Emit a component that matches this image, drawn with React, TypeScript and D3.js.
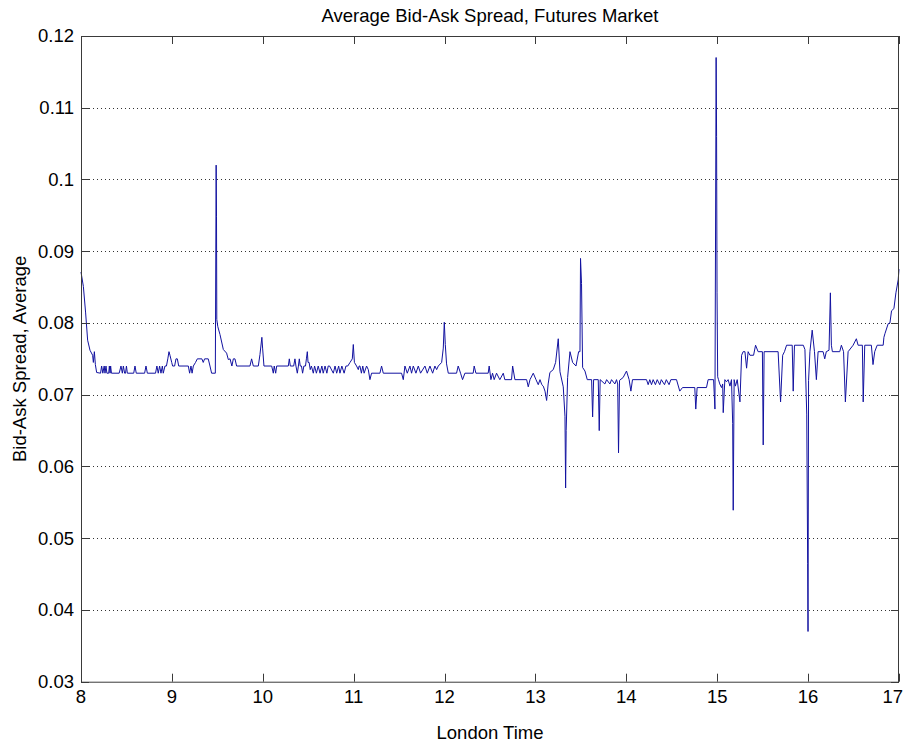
import React from "react";
import * as d3 from "d3";

const times: number[] = [
  8.000, 8.026, 8.051, 8.073, 8.099, 8.128, 8.136, 8.147, 8.158, 8.172,
  8.215, 8.227, 8.240, 8.255, 8.264, 8.275, 8.285, 8.305, 8.312, 8.320,
  8.326, 8.335, 8.420, 8.440, 8.455, 8.466, 8.480, 8.490, 8.500, 8.510,
  8.580, 8.594, 8.608, 8.700, 8.715, 8.730, 8.820, 8.835, 8.850, 8.865,
  8.880, 8.895, 8.905, 8.924, 8.940, 8.955, 8.968, 8.979, 8.998, 9.008,
  9.030, 9.045, 9.060, 9.075, 9.181, 9.195, 9.210, 9.222, 9.236, 9.260,
  9.280, 9.330, 9.345, 9.360, 9.400, 9.419, 9.437, 9.478, 9.487, 9.491,
  9.494, 9.505, 9.529, 9.566, 9.602, 9.621, 9.640, 9.660, 9.676, 9.694,
  9.712, 9.859, 9.877, 9.896, 9.951, 9.969, 9.990, 9.998, 10.013, 10.098,
  10.116, 10.126, 10.142, 10.153, 10.281, 10.292, 10.303, 10.340, 10.354, 10.365,
  10.380, 10.392, 10.402, 10.412, 10.426, 10.438, 10.452, 10.470, 10.480, 10.490,
  10.498, 10.510, 10.522, 10.535, 10.556, 10.570, 10.590, 10.610, 10.630, 10.650,
  10.665, 10.685, 10.705, 10.720, 10.735, 10.776, 10.795, 10.813, 10.835, 10.849,
  10.870, 10.895, 10.915, 10.935, 10.960, 10.985, 10.996, 11.008, 11.032, 11.051,
  11.060, 11.069, 11.085, 11.100, 11.115, 11.142, 11.161, 11.179, 11.197, 11.289,
  11.307, 11.326, 11.527, 11.546, 11.564, 11.590, 11.619, 11.637, 11.656, 11.685,
  11.711, 11.736, 11.784, 11.810, 11.839, 11.869, 11.894, 11.913, 11.931, 11.968,
  11.986, 11.997, 12.008, 12.022, 12.041, 12.132, 12.150, 12.176, 12.198, 12.224,
  12.315, 12.326, 12.345, 12.480, 12.491, 12.510, 12.528, 12.546, 12.572, 12.608,
  12.646, 12.663, 12.737, 12.749, 12.774, 12.903, 12.921, 12.940, 12.976, 13.006,
  13.031, 13.050, 13.070, 13.086, 13.105, 13.123, 13.140, 13.159, 13.196, 13.222,
  13.251, 13.270, 13.306, 13.325, 13.332, 13.338, 13.354, 13.380, 13.409, 13.446,
  13.475, 13.490, 13.496, 13.507, 13.519, 13.545, 13.570, 13.618, 13.629, 13.640,
  13.691, 13.702, 13.712, 13.764, 13.783, 13.819, 13.837, 13.874, 13.892, 13.905,
  13.914, 13.925, 13.965, 14.002, 14.031, 14.050, 14.068, 14.222, 14.240, 14.258,
  14.277, 14.295, 14.320, 14.340, 14.368, 14.385, 14.420, 14.440, 14.470, 14.490,
  14.552, 14.588, 14.618, 14.753, 14.764, 14.779, 14.882, 14.900, 14.960, 14.975,
  14.988, 14.993, 14.998, 15.005, 15.014, 15.028, 15.047, 15.060, 15.066, 15.084,
  15.101, 15.120, 15.140, 15.157, 15.170, 15.176, 15.186, 15.200, 15.220, 15.250,
  15.268, 15.285, 15.305, 15.323, 15.340, 15.360, 15.400, 15.422, 15.450, 15.497,
  15.506, 15.516, 15.670, 15.697, 15.720, 15.740, 15.763, 15.825, 15.836, 15.850,
  15.947, 15.965, 15.985, 15.995, 15.999, 16.005, 16.020, 16.045, 16.070, 16.091,
  16.110, 16.165, 16.183, 16.200, 16.230, 16.245, 16.256, 16.267, 16.348, 16.366,
  16.390, 16.410, 16.440, 16.495, 16.531, 16.550, 16.597, 16.606, 16.623, 16.696,
  16.714, 16.733, 16.760, 16.826, 16.834, 16.845, 16.881, 16.900, 16.918, 16.944,
  16.966, 16.991, 17.000,
];

const spreads: number[] = [
  0.0871, 0.0851, 0.0814, 0.0776, 0.0762, 0.0755, 0.0745, 0.0760, 0.0742, 0.0731,
  0.0730, 0.0740, 0.0730, 0.0740, 0.0730, 0.0740, 0.0730, 0.0730, 0.0740, 0.0730,
  0.0740, 0.0730, 0.0730, 0.0740, 0.0730, 0.0740, 0.0730, 0.0730, 0.0740, 0.0730,
  0.0730, 0.0740, 0.0730, 0.0730, 0.0740, 0.0730, 0.0730, 0.0740, 0.0730, 0.0740,
  0.0730, 0.0740, 0.0730, 0.0740, 0.0740, 0.0750, 0.0760, 0.0755, 0.0745, 0.0740,
  0.0740, 0.0750, 0.0750, 0.0740, 0.0740, 0.0730, 0.0740, 0.0730, 0.0740, 0.0745,
  0.0750, 0.0750, 0.0745, 0.0750, 0.0750, 0.0740, 0.0730, 0.0730, 0.1020, 0.0948,
  0.0805, 0.0795, 0.0784, 0.0763, 0.0758, 0.0749, 0.0750, 0.0740, 0.0750, 0.0750,
  0.0740, 0.0740, 0.0750, 0.0740, 0.0740, 0.0756, 0.0780, 0.0765, 0.0740, 0.0740,
  0.0730, 0.0740, 0.0730, 0.0740, 0.0740, 0.0750, 0.0740, 0.0740, 0.0750, 0.0740,
  0.0730, 0.0740, 0.0750, 0.0740, 0.0740, 0.0730, 0.0740, 0.0740, 0.0750, 0.0760,
  0.0745, 0.0745, 0.0735, 0.0740, 0.0730, 0.0740, 0.0730, 0.0740, 0.0730, 0.0740,
  0.0730, 0.0740, 0.0730, 0.0740, 0.0740, 0.0730, 0.0740, 0.0730, 0.0740, 0.0730,
  0.0740, 0.0730, 0.0740, 0.0740, 0.0745, 0.0750, 0.0770, 0.0745, 0.0740, 0.0735,
  0.0740, 0.0740, 0.0730, 0.0740, 0.0730, 0.0740, 0.0735, 0.0721, 0.0730, 0.0730,
  0.0740, 0.0730, 0.0730, 0.0721, 0.0740, 0.0730, 0.0740, 0.0730, 0.0740, 0.0730,
  0.0740, 0.0730, 0.0740, 0.0730, 0.0740, 0.0730, 0.0740, 0.0735, 0.0740, 0.0745,
  0.0765, 0.0801, 0.0770, 0.0743, 0.0730, 0.0730, 0.0740, 0.0730, 0.0721, 0.0730,
  0.0730, 0.0740, 0.0730, 0.0730, 0.0740, 0.0721, 0.0730, 0.0721, 0.0730, 0.0721,
  0.0730, 0.0721, 0.0721, 0.0740, 0.0721, 0.0721, 0.0711, 0.0721, 0.0730, 0.0721,
  0.0714, 0.0721, 0.0714, 0.0712, 0.0705, 0.0692, 0.0715, 0.0731, 0.0735, 0.0745,
  0.0778, 0.0732, 0.0711, 0.0670, 0.0570, 0.0650, 0.0724, 0.0760, 0.0745, 0.0740,
  0.0760, 0.0760, 0.0890, 0.0855, 0.0738, 0.0733, 0.0721, 0.0721, 0.0669, 0.0721,
  0.0721, 0.0650, 0.0721, 0.0715, 0.0721, 0.0715, 0.0721, 0.0715, 0.0721, 0.0715,
  0.0619, 0.0720, 0.0724, 0.0733, 0.0721, 0.0705, 0.0721, 0.0721, 0.0714, 0.0721,
  0.0714, 0.0721, 0.0714, 0.0721, 0.0714, 0.0721, 0.0714, 0.0721, 0.0714, 0.0721,
  0.0721, 0.0705, 0.0710, 0.0710, 0.0680, 0.0710, 0.0710, 0.0721, 0.0721, 0.0680,
  0.1170, 0.1060, 0.0842, 0.0725, 0.0721, 0.0715, 0.0710, 0.0715, 0.0675, 0.0721,
  0.0718, 0.0721, 0.0712, 0.0721, 0.0660, 0.0539, 0.0721, 0.0712, 0.0721, 0.0690,
  0.0755, 0.0760, 0.0760, 0.0737, 0.0760, 0.0755, 0.0755, 0.0769, 0.0760, 0.0760,
  0.0630, 0.0760, 0.0760, 0.0690, 0.0755, 0.0760, 0.0769, 0.0769, 0.0705, 0.0769,
  0.0769, 0.0763, 0.0673, 0.0465, 0.0370, 0.0720, 0.0760, 0.0790, 0.0760, 0.0721,
  0.0760, 0.0760, 0.0750, 0.0760, 0.0762, 0.0842, 0.0769, 0.0760, 0.0760, 0.0769,
  0.0760, 0.0690, 0.0760, 0.0769, 0.0778, 0.0769, 0.0769, 0.0690, 0.0769, 0.0769,
  0.0742, 0.0760, 0.0769, 0.0769, 0.0780, 0.0785, 0.0799, 0.0800, 0.0817, 0.0820,
  0.0842, 0.0860, 0.0875,
];

const xTicks: number[] = [8, 9, 10, 11, 12, 13, 14, 15, 16, 17];
const yTicks: number[] = [0.03, 0.04, 0.05, 0.06, 0.07, 0.08, 0.09, 0.1, 0.11, 0.12];
const yTickLabels: string[] = ["0.03", "0.04", "0.05", "0.06", "0.07", "0.08", "0.09", "0.1", "0.11", "0.12"];

const titleText = "Average Bid-Ask Spread, Futures Market";
const xLabel = "London Time";
const yLabel = "Bid-Ask Spread, Average";

export default function App() {
  const W = 905;
  const H = 743;
  const left = 81, right = 899, top = 36, bottom = 681.7;
  const x = d3.scaleLinear().domain([8, 17]).range([left, right]);
  const y = d3.scaleLinear().domain([0.03, 0.12]).range([bottom, top]);
  const pts = times.map((t, i) => [t, spreads[i]] as [number, number]);
  const line = d3.line<[number, number]>().x(d => x(d[0])).y(d => y(d[1]));
  const font = "'Liberation Sans', Arial, Helvetica, sans-serif";
  const fs = 18.5;
  const axisColor = "#3a3a3a";
  const tickLen = 8;
  const midX = (left + right) / 2;
  const midY = (top + bottom) / 2;
  const lastTick = xTicks[xTicks.length - 1];

  return (
    <svg width={W} height={H} style={{ position: "absolute", left: 0, top: 0, background: "#fff" }}
      fontFamily={font}>
      <rect x={0} y={0} width={W} height={H} fill="#fff" />
      {yTicks.filter(v => v > 0.031 && v < 0.119).map(v => (
        <line key={"g" + v} x1={left} x2={right} y1={Math.round(y(v)) + 0.5} y2={Math.round(y(v)) + 0.5}
          stroke="#333" strokeWidth={1} strokeDasharray="1 3" />
      ))}
      <path d={line(pts) || ""} fill="none" stroke="#1212a0" strokeWidth={1} strokeLinejoin="miter" />
      <rect x={left + 0.5} y={top + 0.5} width={right - left - 1} height={bottom - top} fill="none"
        stroke={axisColor} strokeWidth={1} />
      {xTicks.map(t => {
        const px = Math.round(x(t)) + 0.5;
        const isLast = t === lastTick;
        return (
          <g key={"x" + t}>
            <line x1={px} x2={px} y1={bottom} y2={bottom - tickLen} stroke={axisColor} />
            <line x1={px} x2={px} y1={top} y2={top + tickLen} stroke={axisColor} />
            <text x={isLast ? W - 2 : x(t)} y={703} textAnchor={isLast ? "end" : "middle"} fontSize={fs} fill="#000">{t}</text>
          </g>
        );
      })}
      {yTicks.map((v, i) => {
        const py = Math.round(y(v)) + 0.5;
        return (
          <g key={"y" + v}>
            <line x1={left} x2={left + tickLen} y1={py} y2={py} stroke={axisColor} />
            <line x1={right} x2={right - tickLen} y1={py} y2={py} stroke={axisColor} />
            <text x={74} y={y(v)} dy="0.35em" textAnchor="end" fontSize={fs} fill="#000">{yTickLabels[i]}</text>
          </g>
        );
      })}
      <text x={midX} y={22} textAnchor="middle" fontSize={fs} fill="#000">{titleText}</text>
      <text x={midX} y={739} textAnchor="middle" fontSize={fs} fill="#000">{xLabel}</text>
      <text transform={`translate(26,${midY}) rotate(-90)`} textAnchor="middle" fontSize={fs} fill="#000">{yLabel}</text>
    </svg>
  );
}
